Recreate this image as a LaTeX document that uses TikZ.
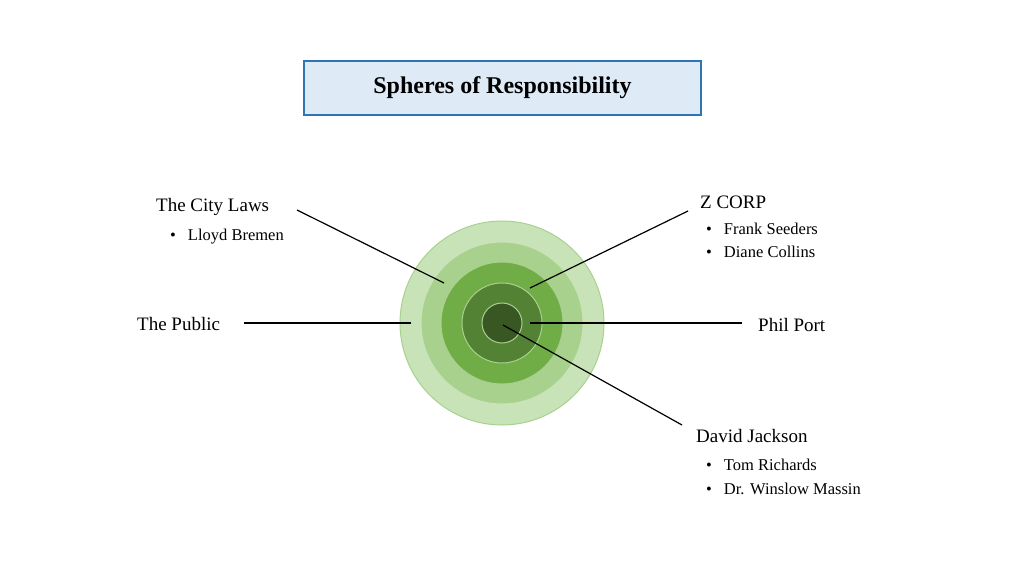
\documentclass[tikz,border=0pt]{standalone}
\usepackage{fontspec}
\setmainfont{Liberation Serif}
\begin{document}
\begin{tikzpicture}[x=1pt,y=-1pt,
  lbl/.style={anchor=west,inner sep=0pt,font=\fontsize{19}{22}\selectfont},
  bul/.style={anchor=west,inner sep=0pt,font=\fontsize{16.5}{19}\selectfont},
  conn/.style={draw=black,line width=1.2pt}]
\useasboundingbox (0,0) rectangle (1024,576);
\definecolor{c1}{HTML}{C9E3B9}\definecolor{c1b}{HTML}{A9D18E}
\definecolor{c2}{HTML}{A9D18E}\definecolor{c3}{HTML}{70AD47}
\definecolor{c4}{HTML}{548235}\definecolor{c5}{HTML}{385723}
\definecolor{tb}{HTML}{DEEBF7}\definecolor{tbd}{HTML}{2E75B6}
\node[draw=tbd,line width=2.5pt,fill=tb,minimum width=397,minimum height=54,font=\fontsize{24}{28}\selectfont\bfseries] (title) at (502.5,88) {Spheres of Responsibility};
\fill[c1,draw=c1b,line width=1pt] (502,323) circle (102);
\fill[c2,draw=c1,line width=1pt] (502,323) circle (81);
\fill[c3,draw=c1b,line width=1pt] (502,323) circle (61);
\fill[c4,draw=c1b,line width=1pt] (502,323) circle (40);
\fill[c5,draw=c1b,line width=1pt] (502,323) circle (20);
\node[lbl] (city) at (156,207) {The City Laws};
\node[bul] (lb) at (170,237) {\textbullet\hspace{12pt}Lloyd Bremen};
\node[lbl] (zc) at (700,202) {Z CORP};
\node[bul] (fs) at (706,229) {\textbullet\hspace{12pt}Frank Seeders};
\node[bul] (dc) at (706,252) {\textbullet\hspace{12pt}Diane Collins};
\node[lbl] (pub) at (137,324) {The Public};
\node[lbl] (pp) at (758,325) {Phil Port};
\node[lbl] (dj) at (696,436) {David Jackson};
\node[bul] (tr) at (706,465) {\textbullet\hspace{12pt}Tom Richards};
\node[bul] (wm) at (706,489) {\textbullet\hspace{12pt}Dr. Winslow Massin};
\coordinate (a1) at (297,210); \coordinate (a2) at (444,283);
\coordinate (b1) at (688,211); \coordinate (b2) at (530,288);
\coordinate (c1p) at (244,323); \coordinate (c2p) at (411,323);
\coordinate (d1) at (530,323); \coordinate (d2) at (742,323);
\coordinate (e1) at (503,325); \coordinate (e2) at (682,425);
\draw[conn] (a1)--(a2); \draw[conn] (b1)--(b2); \draw[conn] (c1p)--(c2p);
\draw[conn] (d1)--(d2); \draw[conn] (e1)--(e2);
\end{tikzpicture}
\end{document}
